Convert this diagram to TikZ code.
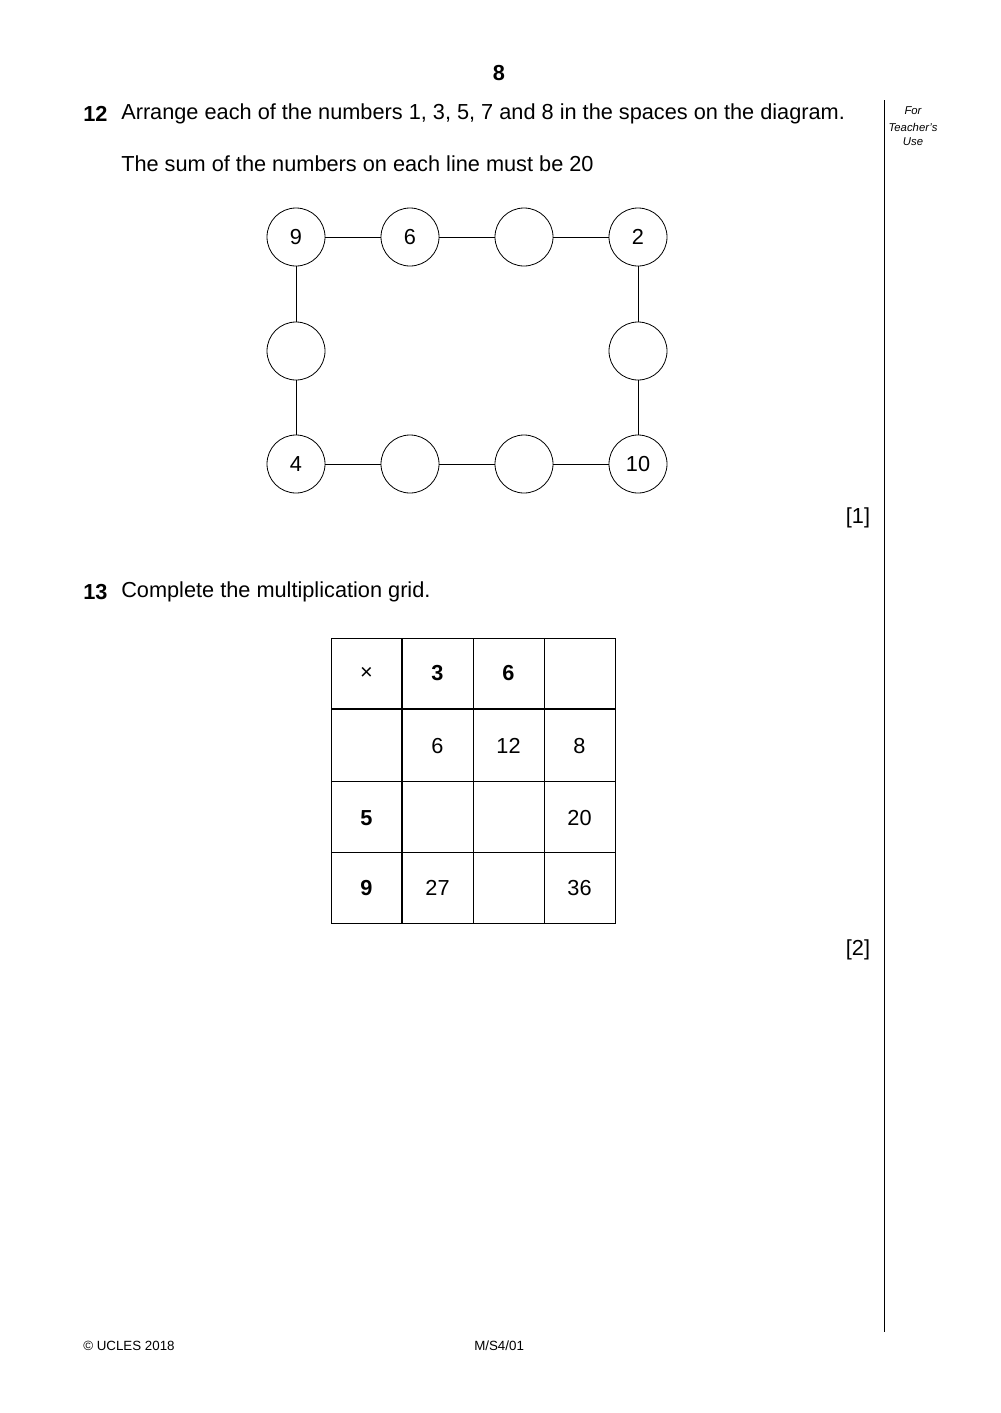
\documentclass[tikz,border=0pt]{standalone}
\usepackage{fontspec}
\setmainfont{Liberation Sans}
\begin{document}
\begin{tikzpicture}[x=0.75pt,y=-0.75pt,
  txt/.style={font=\fontsize{16.3}{19}\selectfont,inner sep=0pt},
  btxt/.style={font=\fontsize{16.3}{19}\selectfont\bfseries,inner sep=0pt},
  circ/.style={draw,circle,minimum size=43.5pt,inner sep=0pt,line width=0.6pt,font=\fontsize{16.3}{19}\selectfont},
  small/.style={font=\fontsize{8.5}{10}\selectfont\itshape,inner sep=0pt},
  foot/.style={font=\fontsize{10}{12}\selectfont,inner sep=0pt,anchor=west},
  thin/.style={line width=0.6pt}]
\useasboundingbox (0,0) rectangle (1000,1413);
\node[btxt] (pg) at (499,73) {8};
\node[btxt,anchor=west] (q12) at (83,114) {12};
\node[txt,anchor=west] (t12) at (121,114) {Arrange each of the numbers 1, 3, 5, 7 and 8 in the spaces on the diagram.};
\node[txt,anchor=west] (t12b) at (121,164) {The sum of the numbers on each line must be 20};
\node[small] (f1) at (913,111) {For};
\node[small] (f2) at (913,127) {Teacher’s};
\node[small] (f3) at (913,142) {Use};
\coordinate (vt) at (884,100); \coordinate (vb) at (884,1332);
\draw[line width=0.5pt] (vt) -- (vb);
\node[circ] (a1) at (296,237) {9};
\node[circ] (a2) at (410,237) {6};
\node[circ] (a3) at (524,237) {};
\node[circ] (a4) at (638,237) {2};
\node[circ] (b1) at (296,351) {};
\node[circ] (b4) at (638,351) {};
\node[circ] (c1) at (296,464) {4};
\node[circ] (c2) at (410,464) {};
\node[circ] (c3) at (524,464) {};
\node[circ] (c4) at (638,464) {10};
\draw[thin] (a1)--(a2) (a2)--(a3) (a3)--(a4) (c1)--(c2) (c2)--(c3) (c3)--(c4)
  (a1)--(b1) (b1)--(c1) (a4)--(b4) (b4)--(c4);
\node[txt] (m1) at (858,518) {[1]};
\node[btxt,anchor=west] (q13) at (83,592) {13};
\node[txt,anchor=west] (t13) at (121,592) {Complete the multiplication grid.};
\draw[thin] (331,638) rectangle (615,923);
\foreach \x in {473,544} \draw[thin] (\x,638)--(\x,923);
\foreach \y in {781,852} \draw[thin] (331,\y)--(615,\y);
\draw[line width=2pt] (402,638)--(402,923);
\draw[line width=2pt] (331,709)--(615,709);
\node[txt] (g00) at (366.5,673) {×};
\node[btxt] (g01) at (437.5,673) {3};
\node[btxt] (g02) at (508.5,673) {6};
\node[txt] (g11) at (437.5,746) {6};
\node[txt] (g12) at (508.5,746) {12};
\node[txt] (g13) at (579.5,746) {8};
\node[btxt] (g20) at (366.5,818) {5};
\node[txt] (g23) at (579.5,818) {20};
\node[btxt] (g30) at (366.5,888) {9};
\node[txt] (g31) at (437.5,888) {27};
\node[txt] (g33) at (579.5,888) {36};
\node[txt] (m2) at (858,950) {[2]};
\node[foot] (c) at (83,1346) {© UCLES 2018};
\node[foot] (code) at (474,1346) {M/S4/01};
\end{tikzpicture}
\end{document}
